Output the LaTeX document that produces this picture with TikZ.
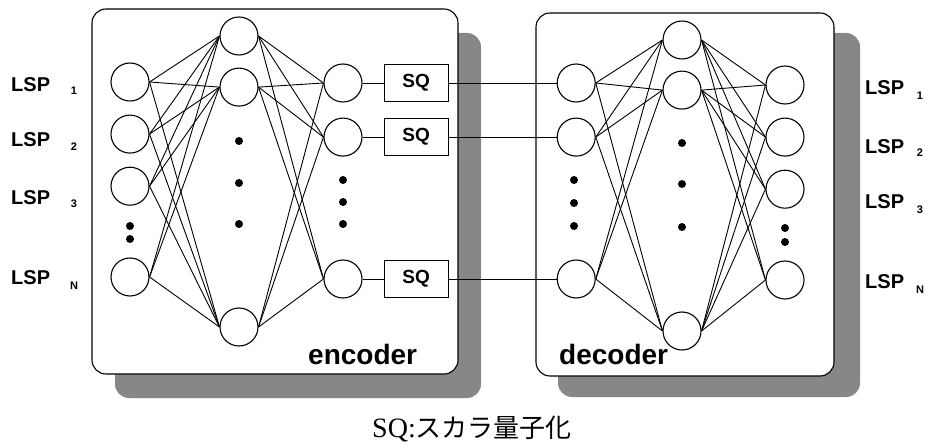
\documentclass[tikz,border=0pt]{standalone}
\usepackage{fontspec}
\setmainfont{Liberation Sans}
\newfontfamily\serif{Liberation Serif}
\newfontfamily\cjk{Noto Sans CJK JP}
\usetikzlibrary{shapes,positioning,fit,calc}

\begin{document}
\begin{tikzpicture}[x=1pt, y=-1pt]

        \def\d{13pt}

        % Styles of the network parts
        \tikzset{
            neuron/.style={circle, draw, line width=1.1pt, minimum size=38pt, inner sep=0pt, fill=white},
            sqbox/.style={rectangle, draw, line width=1.1pt, minimum width=64pt, minimum height=37pt, inner sep=0pt, font=\fontsize{19}{20}\selectfont\bfseries},
            panel/.style={draw, line width=1.1pt, rounded corners=14pt, fill=white},
            shade/.style={fill=black!47, rounded corners=14pt},
            lsp/.style={anchor=west, inner sep=0pt, font=\fontsize{20}{22}\selectfont\bfseries},
            lspsub/.style={inner sep=0pt, font=\fontsize{11}{12}\selectfont\bfseries},
            coder/.style={anchor=base west, inner sep=0pt, font=\fontsize{28}{30}\selectfont\bfseries},
            wire/.style={line width=0.9pt}
        }

        \useasboundingbox (0,0) rectangle (932,446);

        % Panels with their shadows
        \fill[shade] (115,33) rectangle (481,398);
        \fill[shade] (558,33) rectangle (860,397);
        \draw[panel] (92,9) rectangle (458,374);
        \draw[panel] (536,13) rectangle (834,376);

        % Encoder
        \begin{scope}
            \node[neuron] (I1) at (130,82) {};
            \node[neuron] (I2) [below=\d of I1] {};
            \node[neuron] (I3) [below=\d of I2] {};
            \node[neuron] (IN) at (130,277) {};

            \node[neuron] (H1) at (239,36) {};
            \node[neuron] (H2) [below=12pt of H1] {};
            \node[neuron] (H3) at (239,327) {};

            \node[neuron] (E1) at (343,83) {};
            \node[neuron] (E2) [below=15pt of E1] {};
            \node[neuron] (E3) at (343,279) {};

            \node[sqbox] (SQ1) [right=21pt of E1] {SQ};
            \node[sqbox] (SQ2) [right=21pt of E2] {SQ};
            \node[sqbox] (SQ3) [right=21pt of E3] {SQ};

            \node[coder] (enc) at (308,365) {encoder};
        \end{scope}

        % Decoder
        \begin{scope}
            \node[neuron] (D1) [right=108pt of SQ1] {};
            \node[neuron] (D2) [right=108pt of SQ2] {};
            \node[neuron] (D3) [right=108pt of SQ3] {};

            \node[neuron] (G1) at (682,40) {};
            \node[neuron] (G2) [below=11pt of G1] {};
            \node[neuron] (G3) at (682,331) {};

            \node[neuron] (O1) at (785,85) {};
            \node[neuron] (O2) [below=\d of O1] {};
            \node[neuron] (O3) [below=\d of O2] {};
            \node[neuron] (ON) at (785,280) {};

            \node[coder] (dec) at (559,365) {decoder};
        \end{scope}

        % Dots for the left out units
        \begin{scope}
            \fill (130,226) circle (4pt);
            \fill (130,239) circle (4pt);
            \fill (239,141) circle (4pt);
            \fill (239,183) circle (4pt);
            \fill (239,224) circle (4pt);
            \fill (343,180) circle (4pt);
            \fill (343,202) circle (4pt);
            \fill (343,224) circle (4pt);
            \fill (574,180) circle (4pt);
            \fill (574,203) circle (4pt);
            \fill (574,226) circle (4pt);
            \fill (682,143) circle (4pt);
            \fill (682,184) circle (4pt);
            \fill (682,227) circle (4pt);
            \fill (785,228) circle (4pt);
            \fill (785,242) circle (4pt);
        \end{scope}

        % Labels
        \node[lsp] (LA1) at (11,85) {LSP};
        \node[lsp] (LA2) at (11,140) {LSP};
        \node[lsp] (LA3) at (11,198) {LSP};
        \node[lsp] (LAN) at (11,278) {LSP};
        \node[lspsub] (LA1s) at (74,91) {1};
        \node[lspsub] (LA2s) at (74,147) {2};
        \node[lspsub] (LA3s) at (74,204) {3};
        \node[lspsub] (LANs) at (74,286) {N};

        \node[lsp] (LB1) at (865,88) {LSP};
        \node[lsp] (LB2) at (865,147) {LSP};
        \node[lsp] (LB3) at (865,202) {LSP};
        \node[lsp] (LBN) at (865,282) {LSP};
        \node[lspsub] (LB1s) at (920,96) {1};
        \node[lspsub] (LB2s) at (920,153) {2};
        \node[lspsub] (LB3s) at (920,210) {3};
        \node[lspsub] (LBNs) at (920,290) {N};

        \node (cap) at (472,429) {\fontsize{26}{28}\selectfont{\serif\fontsize{28}{30}\selectfont SQ:}{\cjk スカラ量子化}};

        % Connections of the encoder
        \begin{scope}[wire]
            \draw (I1.east) -- (H1.west);
            \draw (I1.east) -- (H2.west);
            \draw (I1.east) -- (H3.west);
            \draw (I2.east) -- (H1.west);
            \draw (I2.east) -- (H2.west);
            \draw (I2.east) -- (H3.west);
            \draw (I3.east) -- (H1.west);
            \draw (I3.east) -- (H2.west);
            \draw (I3.east) -- (H3.west);
            \draw (IN.east) -- (H1.west);
            \draw (IN.east) -- (H2.west);
            \draw (IN.east) -- (H3.west);
            \draw (H1.east) -- (E1.west);
            \draw (H1.east) -- (E2.west);
            \draw (H1.east) -- (E3.west);
            \draw (H2.east) -- (E1.west);
            \draw (H2.east) -- (E2.west);
            \draw (H2.east) -- (E3.west);
            \draw (H3.east) -- (E1.west);
            \draw (H3.east) -- (E2.west);
            \draw (H3.east) -- (E3.west);
            \draw (E1) -- (SQ1);
            \draw (E2) -- (SQ2);
            \draw (E3) -- (SQ3);
        \end{scope}

        % Connections of the decoder
        \begin{scope}[wire]
            \draw (SQ1) -- (D1);
            \draw (SQ2) -- (D2);
            \draw (SQ3) -- (D3);
            \draw (D1.east) -- (G1.west);
            \draw (D1.east) -- (G2.west);
            \draw (D1.east) -- (G3.west);
            \draw (D2.east) -- (G1.west);
            \draw (D2.east) -- (G2.west);
            \draw (D2.east) -- (G3.west);
            \draw (D3.east) -- (G1.west);
            \draw (D3.east) -- (G2.west);
            \draw (D3.east) -- (G3.west);
            \draw (G1.east) -- (O1.west);
            \draw (G1.east) -- (O2.west);
            \draw (G1.east) -- (O3.west);
            \draw (G1.east) -- (ON.west);
            \draw (G2.east) -- (O1.west);
            \draw (G2.east) -- (O2.west);
            \draw (G2.east) -- (O3.west);
            \draw (G2.east) -- (ON.west);
            \draw (G3.east) -- (O1.west);
            \draw (G3.east) -- (O2.west);
            \draw (G3.east) -- (O3.west);
            \draw (G3.east) -- (ON.west);
        \end{scope}

\end{tikzpicture}
\end{document}
